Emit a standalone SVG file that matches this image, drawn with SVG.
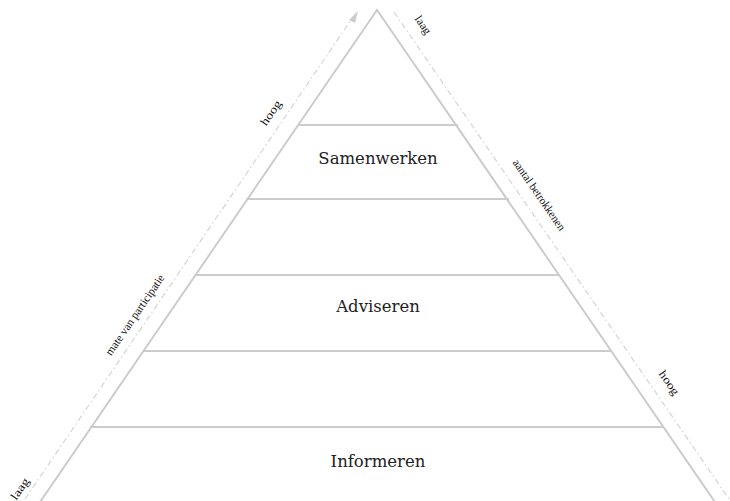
<svg xmlns="http://www.w3.org/2000/svg" width="730" height="501" viewBox="0 0 730 501">
<style>
.edge{stroke:#cccccc;stroke-width:2;fill:none}
.tier{stroke:#cccccc;stroke-width:2}
.axis{stroke:#d4d4d4;stroke-width:1.2;fill:none;stroke-dasharray:6 3 1.5 3}
.lbl{font-family:"DejaVu Serif","Liberation Serif",serif;font-size:16.5px;fill:#222;text-anchor:middle}
.ax{font-family:"Liberation Serif",serif;font-size:11.5px;fill:#111;text-anchor:middle}
</style>
<g id="connectors">
<line class="axis" x1="25" y1="499" x2="353" y2="17"/>
<path d="M349,20 L358,11 L355,23 z" fill="#cccccc"/>
<line class="axis" x1="394" y1="12" x2="729" y2="499"/>
</g>
<g id="pyramid">
<path class="edge" d="M38,505 L377,10 L717,505"/>
<line class="tier" x1="298" y1="125" x2="458" y2="125"/>
<line class="tier" x1="246" y1="199" x2="509" y2="199"/>
<line class="tier" x1="196" y1="275" x2="559" y2="275"/>
<line class="tier" x1="144" y1="351" x2="611" y2="351"/>
<line class="tier" x1="90" y1="427" x2="664" y2="427"/>
</g>
<g id="samenwerken"><text class="lbl" x="378" y="164">Samenwerken</text></g>
<g id="adviseren"><text class="lbl" x="378" y="312">Adviseren</text></g>
<g id="informeren"><text class="lbl" x="378" y="467">Informeren</text></g>
<g id="label-left">
<text class="ax" transform="translate(23,491) rotate(-55.5)" textLength="24" lengthAdjust="spacingAndGlyphs">laag</text>
<text class="ax" transform="translate(274,115) rotate(-55.5)" textLength="28" lengthAdjust="spacingAndGlyphs">hoog</text>
<text class="ax" transform="translate(138,317) rotate(-55.5)" textLength="95" lengthAdjust="spacingAndGlyphs">mate van participatie</text>
</g>
<g id="label-right">
<text class="ax" transform="translate(420,27) rotate(55.5)" textLength="20" lengthAdjust="spacingAndGlyphs">laag</text>
<text class="ax" transform="translate(536,197) rotate(55.5)" textLength="84" lengthAdjust="spacingAndGlyphs">aantal betrokkenen</text>
<text class="ax" transform="translate(666,385) rotate(55.5)" textLength="27" lengthAdjust="spacingAndGlyphs">hoog</text>
</g>
</svg>
